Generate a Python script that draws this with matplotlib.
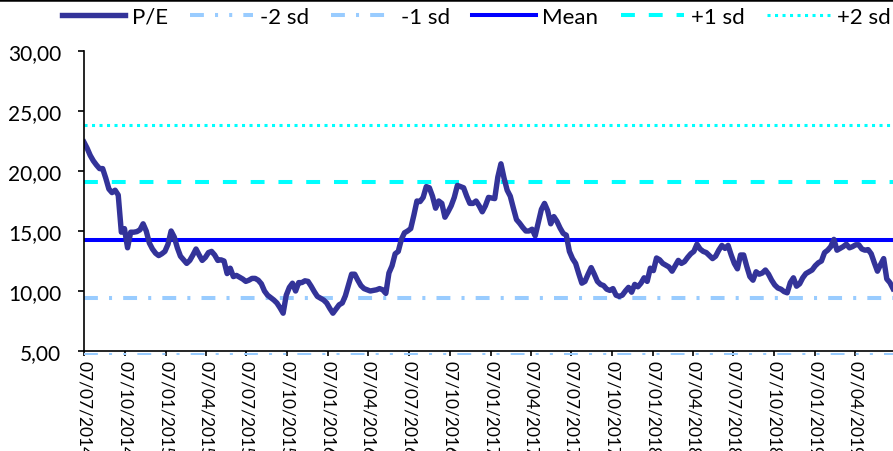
import matplotlib
matplotlib.use("Agg")
import matplotlib.pyplot as plt
import matplotlib.dates as mdates
from matplotlib.lines import Line2D
from matplotlib.patches import Rectangle
from matplotlib.ticker import FuncFormatter
import pandas as pd

plt.rcParams["font.family"] = ["Lato", "DejaVu Sans"]
plt.rcParams["lines.scale_dashes"] = False

# weekly P/E readings, starting 07/07/2014
start_date = "2014-07-07"
pe = [
    22.4, 21.9, 21.3, 20.85, 20.5, 20.2, 20.2, 19.4, 18.5, 18.2,
    18.4, 18.0, 14.9, 15.2, 13.6, 14.9, 14.9, 14.95, 15.1, 15.6,
    15.0, 14.0, 13.5, 13.15, 12.95, 13.1, 13.3, 13.9, 15.0, 14.5,
    13.6, 12.9, 12.6, 12.3, 12.55, 13.0, 13.5, 13.0, 12.55, 12.8,
    13.2, 13.3, 13.0, 12.55, 12.6, 12.5, 11.45, 11.9, 11.2, 11.3,
    11.15, 11.0, 10.8, 10.9, 11.05, 11.05, 10.9, 10.6, 10.0, 9.65,
    9.45, 9.25, 9.0, 8.6, 8.15, 9.65, 10.3, 10.65, 10.0, 10.7,
    10.7, 10.85, 10.8, 10.4, 9.95, 9.55, 9.4, 9.25, 9.0, 8.55,
    8.15, 8.5, 8.85, 9.0, 9.6, 10.5, 11.4, 11.4, 10.9, 10.45,
    10.2, 10.1, 10.0, 10.05, 10.1, 10.2, 10.1, 9.8, 11.5, 12.1,
    13.1, 13.3, 14.3, 14.85, 15.0, 15.2, 16.3, 17.5, 17.45, 17.8,
    18.7, 18.6, 17.9, 16.9, 17.5, 17.3, 16.15, 16.6, 17.1, 17.8,
    18.8, 18.7, 18.6, 17.9, 17.3, 17.3, 17.5, 17.1, 16.6, 17.1,
    17.8, 17.75, 17.7, 19.5, 20.6, 19.4, 18.4, 17.9, 16.9, 15.95,
    15.65, 15.3, 15.0, 15.0, 15.15, 14.6, 15.7, 16.8, 17.3, 16.7,
    15.6, 16.2, 15.8, 15.25, 14.8, 14.65, 13.3, 12.7, 12.3, 11.45,
    10.65, 10.8, 11.4, 11.95, 11.4, 10.8, 10.55, 10.45, 10.15, 10.05,
    10.2, 9.65, 9.55, 9.65, 10.0, 10.3, 9.9, 10.55, 10.35, 10.65,
    11.1, 10.8, 11.9, 11.7, 12.75, 12.6, 12.3, 12.15, 12.0, 11.65,
    12.1, 12.55, 12.3, 12.45, 12.8, 13.1, 13.3, 13.9, 13.5, 13.3,
    13.2, 12.95, 12.7, 12.9, 13.4, 13.8, 13.55, 13.8, 13.0, 12.3,
    11.85, 13.0, 13.0, 12.05, 11.2, 10.9, 11.6, 11.4, 11.5, 11.75,
    11.4, 10.9, 10.5, 10.25, 10.15, 9.95, 9.85, 10.7, 11.1, 10.4,
    10.6, 11.1, 11.45, 11.6, 11.75, 12.1, 12.35, 12.5, 13.2, 13.4,
    13.7, 14.3, 13.4, 13.55, 13.7, 13.9, 13.6, 13.7, 13.85, 13.85,
    13.5, 13.4, 13.45, 13.1, 12.35, 11.65, 12.2, 12.7, 11.0, 10.7,
    10.2,
]

mean_pe = 14.25
sd_pe = 4.8

band_labels = ["-2 sd", "-1 sd", "Mean", "+1 sd", "+2 sd"]
band_offsets = [-2, -1, 0, 1, 2]

dates = pd.date_range(start_date, periods=len(pe), freq="7D")

W, H = 893, 452
fig = plt.figure(figsize=(W / 100, H / 100), dpi=100)
ax_box = [84 / W, 100 / H, 1 - 84 / W, 300 / H]
ax = fig.add_axes(ax_box)

pe_line, = ax.plot(dates, pe, color="#333399", lw=3.9, label="P/E",
                   solid_joinstyle="round", zorder=5)

band_styles = {
    "-2 sd": dict(color="#99CCFF", lw=2.9, dashes=[10, 8, 2.2, 8, 2.2, 8]),
    "-1 sd": dict(color="#99CCFF", lw=2.9, dashes=[10, 8, 2.2, 8]),
    "Mean": dict(color="#0000FF", lw=2.9),
    "+1 sd": dict(color="#00FFFF", lw=2.9, dashes=[10, 10]),
    "+2 sd": dict(color="#00FFFF", lw=2.2, dashes=[2.2, 3.2]),
}

handles = [pe_line]
for name, k in zip(band_labels, band_offsets):
    level = mean_pe + k * sd_pe
    line = ax.axhline(level, label=name, zorder=3, **band_styles[name])
    if k == -2:
        # sits just under the axis minimum: only a sliver shows, as in Excel
        clip = Rectangle((ax_box[0], ax_box[1] - 3.5 / H), ax_box[2], ax_box[3],
                         transform=fig.transFigure, visible=False)
        fig.add_artist(clip)
        line.set_clip_path(clip)
    handles.append(line)

ax.set_ylim(5, 30)
ax.set_yticks([5, 10, 15, 20, 25, 30])
ax.yaxis.set_major_formatter(FuncFormatter(lambda v, p: f"{v:.2f}".replace(".", ",")))

ax.set_xlim(pd.Timestamp("2014-07-07"), pd.Timestamp("2019-07-01"))
ax.xaxis.set_major_locator(mdates.MonthLocator(bymonth=[1, 4, 7, 10], bymonthday=7))
ax.xaxis.set_major_formatter(mdates.DateFormatter("%d/%m/%Y"))

for side in ["top", "right"]:
    ax.spines[side].set_visible(False)
for side in ["left", "bottom"]:
    ax.spines[side].set_linewidth(1.2)
    ax.spines[side].set_zorder(6)

ax.tick_params(axis="y", direction="out", length=4.3, width=1.2, labelsize=15, pad=12)
ax.tick_params(axis="x", direction="out", length=3.5, width=1.2, labelsize=12.5,
               pad=3, labelrotation=-90)
for lbl in ax.get_xticklabels():
    lbl.set_verticalalignment("top")

fig.legend(handles=handles, loc="center", bbox_to_anchor=(0.533, 1 - 18 / H),
           ncol=6, frameon=False, fontsize=16, handlelength=2.85,
           handletextpad=0.3, columnspacing=1.0, borderaxespad=0)

fig.add_artist(Line2D([0, 1], [1 - 1.2 / H, 1 - 1.2 / H], color="black", lw=1.8))

fig.savefig("out.png", dpi=100)
